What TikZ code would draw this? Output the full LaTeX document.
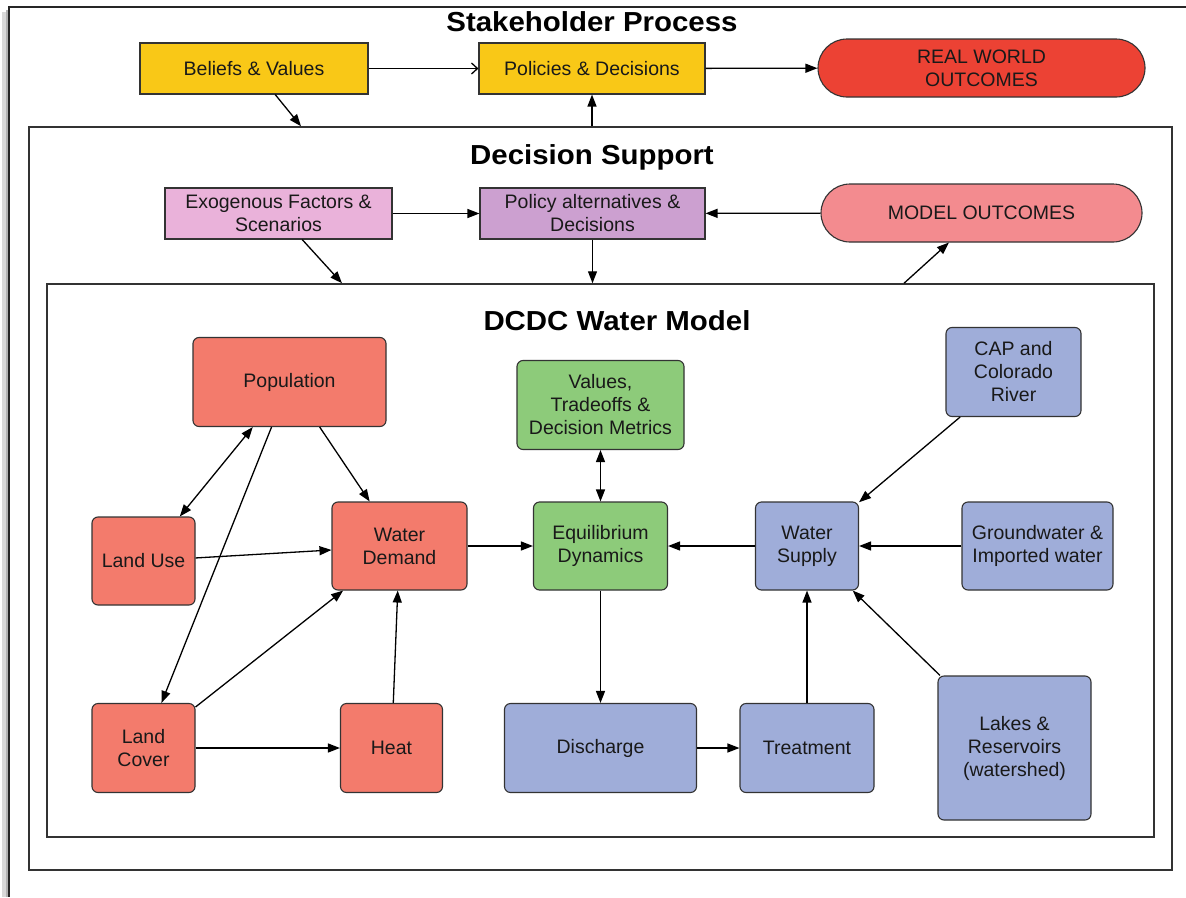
\documentclass[tikz,border=0pt]{standalone}
\usepackage{fontspec}
\setmainfont{Liberation Sans}
\newfontfamily\headfont[FakeStretch=1.07]{Liberation Sans}
\usetikzlibrary{arrows.meta,shapes.misc}
\definecolor{stakeyellow}{HTML}{F9C817}
\definecolor{worldred}{HTML}{EC4234}
\definecolor{exopink}{HTML}{EAB2DA}
\definecolor{policymauve}{HTML}{CCA0D0}
\definecolor{outcomepink}{HTML}{F38B8F}
\definecolor{modelred}{HTML}{F37B6C}
\definecolor{modelgreen}{HTML}{8DCB7A}
\definecolor{modelblue}{HTML}{9FADD9}
\begin{document}
\begin{tikzpicture}[x=1pt, y=-1pt,
    frame/.style={draw=black!80, line width=1.5pt, inner sep=0pt},
    heading/.style={font=\headfont\fontsize{27.5}{32}\selectfont\bfseries},
    box/.style={draw=black!80, line width=1.1pt, inner sep=0pt, align=center, text=black!90, font=\fontsize{19.5}{23}\selectfont},
    stake/.style={box, fill=stakeyellow, minimum height=51pt},
    support/.style={box, minimum height=51pt},
    outcome/.style={box, rounded rectangle, minimum height=58pt},
    model/.style={box, rounded corners=6pt},
    arrow/.style={-{Triangle[length=12pt,width=9pt]}, line width=1.3pt},
    twoway/.style={{Triangle[length=12pt,width=9pt]}-{Triangle[length=12pt,width=9pt]}, line width=1.3pt},
    barb/.style={-{Straight Barb[length=6pt,width=11pt]}, line width=1.3pt}
]
    \useasboundingbox[fill=white] (0,0) rectangle (1186,897);
    \draw[black!15, line width=5pt] (4,12) -- (4,897);
    \draw[black!30, line width=2pt] (7,10) -- (7,897);
    \draw[black!85, line width=1.6pt] (1186,7) -- (9,7) -- (9,897);

    \node[frame, minimum width=1143pt, minimum height=743pt] (decision) at (600.5,498.5) {};
    \node[frame, minimum width=1107pt, minimum height=553pt] (dcdc) at (600.5,560.5) {};

    \node[heading] (stakehead) at (592,22) {Stakeholder Process};
    \node[heading] (supporthead) at (592,157) {Decision Support};
    \node[heading] (modelhead) at (617,321) {DCDC Water Model};

    \node[stake, minimum width=228pt] (beliefs) at (254,68.5) {Beliefs \& Values};
    \node[stake, minimum width=226pt] (policies) at (592,68.5) {Policies \& Decisions};
    \node[outcome, fill=worldred, minimum width=327pt] (realworld) at (981.5,68) {REAL WORLD\\OUTCOMES};

    \node[support, fill=exopink, minimum width=227pt] (exogenous) at (278.5,213.5) {Exogenous Factors \&\\Scenarios};
    \node[support, fill=policymauve, minimum width=225pt] (policyalt) at (592.5,213.5) {Policy alternatives \&\\Decisions};
    \node[outcome, fill=outcomepink, minimum width=321pt] (modelout) at (981.5,213) {MODEL OUTCOMES};

    \node[model, fill=modelred, minimum width=193pt, minimum height=89pt] (population) at (289.5,382) {Population};
    \node[model, fill=modelred, minimum width=103pt, minimum height=88pt] (landuse) at (143.5,561) {Land Use};
    \node[model, fill=modelred, minimum width=135pt, minimum height=88pt] (demand) at (399.5,546) {Water\\Demand};
    \node[model, fill=modelred, minimum width=103pt, minimum height=89pt] (landcover) at (143.5,748) {Land\\Cover};
    \node[model, fill=modelred, minimum width=102pt, minimum height=89pt] (heat) at (391.5,748) {Heat};
    \node[model, fill=modelgreen, minimum width=167pt, minimum height=89pt] (values) at (600.5,405) {Values,\\Tradeoffs \&\\Decision Metrics};
    \node[model, fill=modelgreen, minimum width=134pt, minimum height=88pt] (equilibrium) at (600.5,546) {Equilibrium\\Dynamics};
    \node[model, fill=modelblue, minimum width=192pt, minimum height=89pt] (discharge) at (600.5,748) {Discharge};
    \node[model, fill=modelblue, minimum width=134pt, minimum height=89pt] (treatment) at (807,748) {Treatment};
    \node[model, fill=modelblue, minimum width=103pt, minimum height=88pt] (supply) at (807,546) {Water\\Supply};
    \node[model, fill=modelblue, minimum width=135pt, minimum height=89pt] (cap) at (1013.5,372) {CAP and\\Colorado\\River};
    \node[model, fill=modelblue, minimum width=151pt, minimum height=88pt] (groundwater) at (1037.5,546) {Groundwater \&\\Imported water};
    \node[model, fill=modelblue, minimum width=153pt, minimum height=144pt] (lakes) at (1014.5,748) {Lakes \&\\Reservoirs\\(watershed)};

    \coordinate (beliefsdrop) at (decision.north -| 301,0);
    \coordinate (decisionup) at (decision.north -| policies);
    \coordinate (exodrop) at (dcdc.north -| 342,0);
    \coordinate (policydrop) at (dcdc.north -| policyalt);
    \coordinate (dcdcup) at (dcdc.north -| 904,0);

    \draw[barb] (beliefs) -- (policies);
    \draw[arrow] (policies) -- (realworld);
    \draw[arrow] (beliefs) -- (beliefsdrop);
    \draw[arrow] (decisionup) -- (policies);
    \draw[arrow] (exogenous) -- (policyalt);
    \draw[arrow] (modelout) -- (policyalt);
    \draw[arrow] (exogenous) -- (exodrop);
    \draw[arrow] (policyalt) -- (policydrop);
    \draw[arrow] (dcdcup) -- (modelout);

    \draw[twoway] (population) -- (landuse);
    \draw[arrow] (population) -- (landcover);
    \draw[arrow] (population) -- (demand);
    \draw[arrow] (landuse) -- (demand);
    \draw[arrow] (landcover) -- (demand);
    \draw[arrow] (heat) -- (demand);
    \draw[arrow] (landcover) -- (heat);
    \draw[arrow] (demand) -- (equilibrium);
    \draw[twoway] (values) -- (equilibrium);
    \draw[arrow] (supply) -- (equilibrium);
    \draw[arrow] (equilibrium) -- (discharge);
    \draw[arrow] (discharge) -- (treatment);
    \draw[arrow] (treatment) -- (supply);
    \draw[arrow] (cap) -- (supply);
    \draw[arrow] (groundwater) -- (supply);
    \draw[arrow] (lakes) -- (supply);
\end{tikzpicture}
\end{document}
